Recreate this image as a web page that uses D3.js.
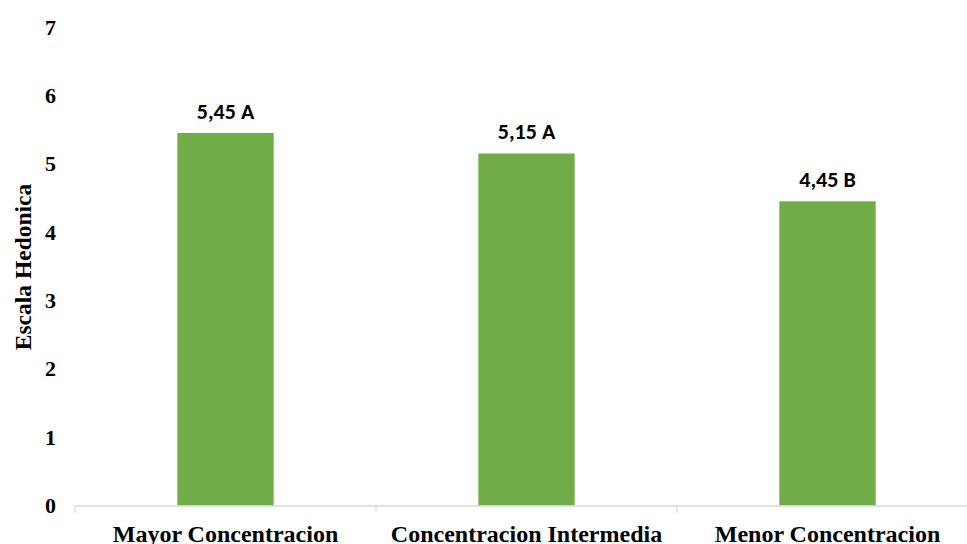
<!DOCTYPE html>
<html>
<head>
<meta charset="utf-8">
<script src="https://cdn.jsdelivr.net/npm/d3@7"></script>
<style>
  body { margin: 0; background: #fff; }
</style>
</head>
<body>
<div id="chart"></div>
<script>
// values
const categories = ["Mayor Concentracion", "Concentracion Intermedia", "Menor Concentracion"];
const values = [5.45, 5.15, 4.45];
const labels = ["5,45 A", "5,15 A", "4,45 B"];
const yTicks = [0, 1, 2, 3, 4, 5, 6, 7];

const width = 967;
const height = 544;

const svg = d3.select("#chart")
  .append("svg")
  .attr("width", width)
  .attr("height", height);

const x = d3.scaleBand()
  .domain(categories)
  .range([75, 978])
  .paddingInner(0.68)
  .paddingOuter(0.34);

const y = d3.scaleLinear()
  .domain([0, 7])
  .range([505.5, 27]);

// y tick labels, no axis line
svg.append("g")
  .selectAll("text")
  .data(yTicks).enter()
  .append("text")
  .attr("x", 56)
  .attr("y", d => y(d))
  .attr("dy", "0.35em")
  .attr("text-anchor", "end")
  .style("font-family", "'Liberation Serif', 'Times New Roman', serif")
  .style("font-weight", "bold")
  .style("font-size", "22px")
  .text(d => d);

// bars
svg.append("g")
  .selectAll("rect")
  .data(values).enter()
  .append("rect")
  .attr("x", (d, i) => x(categories[i]))
  .attr("y", d => y(d))
  .attr("width", x.bandwidth())
  .attr("height", d => y(0) - y(d))
  .attr("fill", "#70ad47");

// value labels
svg.append("g")
  .selectAll("text")
  .data(values).enter()
  .append("text")
  .attr("x", (d, i) => x(categories[i]) + x.bandwidth() / 2)
  .attr("y", d => y(d) - 14)
  .attr("text-anchor", "middle")
  .style("font-family", "Carlito, 'Open Sans', 'Liberation Sans', sans-serif")
  .style("font-weight", "bold")
  .style("font-size", "22px")
  .style("fill", "#000")
  .text((d, i) => labels[i]);

// x axis
const xAxis = svg.append("g")
  .attr("transform", `translate(0,${y(0)})`)
  .call(d3.axisBottom(x).tickSize(0).tickPadding(19));
xAxis.select(".domain").attr("stroke", "#d9d9d9").attr("stroke-width", 1.3);
xAxis.selectAll("text")
  .style("font-family", "'Liberation Serif', 'Times New Roman', serif")
  .style("font-weight", "bold")
  .style("font-size", "24px")
  .style("fill", "#000");

// category separator ticks
const step = x.step();
const bounds = d3.range(categories.length + 1).map(i => 75 + i * step);
svg.append("g")
  .selectAll("line")
  .data(bounds).enter()
  .append("line")
  .attr("x1", d => d)
  .attr("x2", d => d)
  .attr("y1", y(0))
  .attr("y2", y(0) + 7)
  .attr("stroke", "#d9d9d9")
  .attr("stroke-width", 1.3);

// y title
svg.append("text")
  .attr("transform", "rotate(-90)")
  .attr("x", -267)
  .attr("y", 31)
  .attr("text-anchor", "middle")
  .style("font-family", "'Liberation Serif', 'Times New Roman', serif")
  .style("font-weight", "bold")
  .style("font-size", "23.5px")
  .text("Escala Hedonica");
</script>
</body>
</html>
